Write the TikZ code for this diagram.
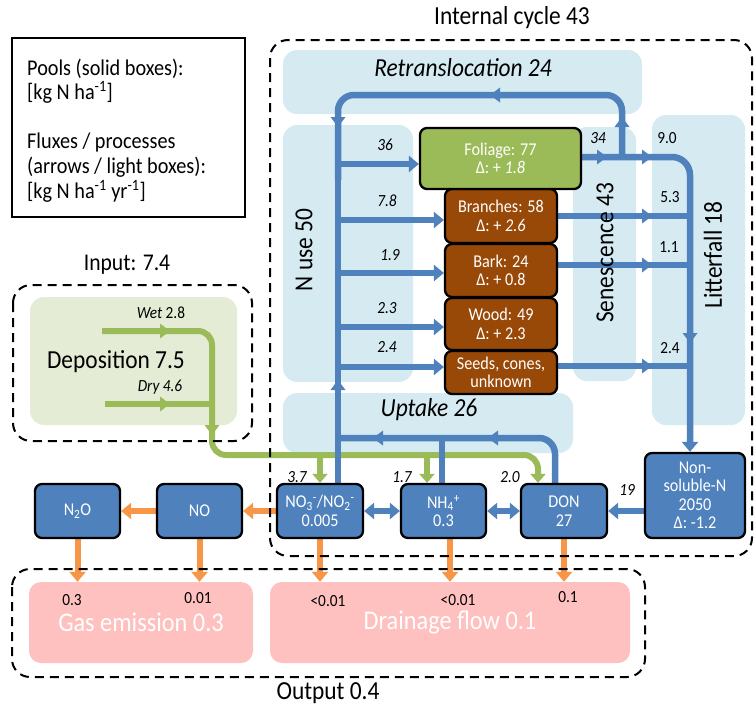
\documentclass[tikz,border=0pt]{standalone}
\usepackage{fontspec}
\setmainfont{Carlito}[FakeStretch=0.9]
\usetikzlibrary{arrows.meta}
\definecolor{bl}{HTML}{4F81BD}
\definecolor{brn}{HTML}{984807}
\definecolor{grn}{HTML}{9BBB59}
\definecolor{lbl}{HTML}{D5EAF1}
\definecolor{lgr}{HTML}{E4ECD5}
\definecolor{pnk}{HTML}{FFC0C0}
\definecolor{org}{HTML}{F79646}
\newcommand\fsz[2]{\fontsize{#1}{#2}\selectfont}
\pgfdeclarelayer{back}
\pgfdeclarelayer{lines}
\pgfsetlayers{back,lines,main}
\tikzset{
 mr/.pic={\fill (5,0) -- (-5,-7.5) -- (-5,7.5) -- cycle;},
 ml/.pic={\fill (-5,0) -- (5,-7.5) -- (5,7.5) -- cycle;},
 mu/.pic={\fill (0,-5) -- (-7.5,5) -- (7.5,5) -- cycle;},
 md/.pic={\fill (0,5) -- (-7.5,-5) -- (7.5,-5) -- cycle;},
}
\begin{document}
\begin{tikzpicture}[x=1pt,y=-1pt,
 pool/.style={draw=black,line width=2.3pt,rounded corners=7pt,text=white,align=center,inner sep=0pt,font=\fsz{18}{18.5}},
 lightbox/.style={fill=lbl,rounded corners=14pt},
 bline/.style={draw=bl,line width=6.5pt},
 gline/.style={draw=grn,line width=6pt},
 oline/.style={draw=org,line width=6pt},
 gtip/.style={-{Triangle[width=15pt,length=9pt]}},
 big/.style={font=\fsz{26}{30}},
 ibig/.style={font=\fsz{26}{30}\itshape},
 leg/.style={font=\fsz{22.5}{25},anchor=base west,inner sep=0pt},
 lab/.style={font=\fsz{17}{19}},
 ilab/.style={font=\fsz{17}{19}\itshape},
 pinkbox/.style={fill=pnk,rounded corners=12pt,minimum height=81pt,text=white,font=\fsz{27}{30}},
 dbox/.style={draw=black,line width=2pt,dash pattern=on 9pt off 6pt,rounded corners=18pt},
 >={Triangle[width=16pt,length=10pt]}]
\useasboundingbox (0,0) rectangle (755,707);

\begin{pgfonlayer}{back}
 \path[lightbox] (283,50) rectangle (642,114);
 \path[lightbox] (283,125) rectangle (413,382);
 \path[lightbox] (573,127) rectangle (636,381);
 \path[lightbox] (652,115) rectangle (745,425);
 \path[lightbox] (283,393) rectangle (573,453);
 \path[fill=lgr,rounded corners=14pt] (30,297) rectangle (237,425);
\end{pgfonlayer}

% pools
\node[pool,fill=brn,minimum width=112pt,minimum height=54pt] (br) at (501,216) {Branches: 58\\Δ: + \textit{2.6}};
\node[pool,fill=brn,minimum width=112pt,minimum height=53pt] (bk) at (501,270.5) {Bark: 24\\Δ: + 0.8};
\node[pool,fill=brn,minimum width=112pt,minimum height=52pt] (wd) at (501,324) {Wood: 49\\Δ: + 2.3};
\node[pool,fill=brn,minimum width=112pt,minimum height=43pt] (sd) at (501,372.5) {Seeds, cones,\\unknown};
\node[pool,fill=grn,minimum width=161pt,minimum height=61pt] (fol) at (500.5,158.5) {Foliage: 77\\Δ: + \textit{1.8}};

\node[pool,fill=bl,minimum width=85pt,minimum height=54pt] (n2o) at (77.5,511) {N\textsubscript{2}O};
\node[pool,fill=bl,minimum width=85pt,minimum height=54pt] (no) at (199.5,511) {NO};
\node[pool,fill=bl,minimum width=86pt,minimum height=54pt] (no3) at (320,511) {NO\textsubscript{3}\textsuperscript{-}/NO\textsubscript{2}\textsuperscript{-}\\0.005};
\node[pool,fill=bl,minimum width=85pt,minimum height=54pt] (nh4) at (443.5,511) {NH\textsubscript{4}\textsuperscript{+}\\0.3};
\node[pool,fill=bl,minimum width=86pt,minimum height=54pt] (don) at (564,511) {DON\\27};
\node[pool,fill=bl,minimum width=100pt,minimum height=85pt] (nons) at (695,495.5) {Non-\\soluble-N\\2050\\Δ: -1.2};

\node[pinkbox,minimum width=224pt] (gas) at (141,622.5) {Gas emission 0.3};
\node[pinkbox,minimum width=360pt] (drn) at (450,622.5) {Drainage flow 0.1};

\begin{pgfonlayer}{lines}
 % green deposition
 \draw[gline,rounded corners=14pt,gtip] (102,331) -- (212,331) -- (212,455) -- (538,455) -- (538,0 |- don.north);
 \draw[gline] (105,404) -- (212,404);
 \draw[gline,gtip] (320,455) -- (320,0 |- no3.north);
 \draw[gline,gtip] (427,455) -- (427,0 |- nh4.north);
 \pic[fill=grn] at (165,331) {mr};
 \pic[fill=grn] at (165,404) {mr};
 \pic[fill=grn] at (212,430) {md};
 % blue
 \draw[bline,rounded corners=16pt] (622,157) -- (622,95) -- (338,95) -- (338,180);
 \draw[bline] (338,0 |- no3.north) -- (338,170);
 \draw[bline,->] (338,164) -- (338,164 -| fol.west);
 \draw[bline,->] (338,220) -- (338,220 -| br.west);
 \draw[bline,->] (338,273) -- (338,273 -| bk.west);
 \draw[bline,->] (338,327) -- (338,327 -| wd.west);
 \draw[bline,->] (338,367) -- (338,367 -| sd.west);
 \draw[bline,rounded corners=18pt,->] (fol.east |- 0,157) -- (690,157) -- (690,0 |- nons.north);
 \draw[bline] (br.east |- 0,216) -- (690,216);
 \draw[bline] (bk.east |- 0,265) -- (690,265);
 \draw[bline] (sd.east |- 0,366) -- (690,366);
 \draw[bline,rounded corners=16pt] (555,0 |- don.north) -- (555,438) -- (338,438);
 \draw[bline] (442,0 |- nh4.north) -- (442,438);
 \draw[bline,<->] (no3.east) -- (nh4.west);
 \draw[bline,<->] (nh4.east) -- (don.west);
 \draw[bline,->] (nons.west |- don.east) -- (don.east);
 \pic[fill=bl] at (495,95) {ml};
 \pic[fill=bl] at (622,122) {mu};
 \pic[fill=bl] at (338,122) {md};
 \pic[fill=bl] at (338,385) {mu};
 \pic[fill=bl] at (378,438) {ml};
 \pic[fill=bl] at (493,438) {ml};
 \pic[fill=bl] at (602,157) {mr};
 \pic[fill=bl] at (647,157) {mr};
 \pic[fill=bl] at (647,216) {mr};
 \pic[fill=bl] at (647,265) {mr};
 \pic[fill=bl] at (647,366) {mr};
 \pic[fill=bl] at (690,338) {md};
 % orange
 \draw[oline,->] (no3.west) -- (no.east);
 \draw[oline,->] (no.west) -- (n2o.east);
 \draw[oline,->] (n2o.south) -- (n2o.south |- gas.north);
 \draw[oline,->] (no.south) -- (no.south |- gas.north);
 \draw[oline,->] (no3.south) -- (no3.south |- drn.north);
 \draw[oline,->] (450,0 |- nh4.south) -- (450,0 |- drn.north);
 \draw[oline,->] (don.south) -- (don.south |- drn.north);
\end{pgfonlayer}

% process labels
\node[ibig] (tret) at (463,68) {Retranslocation 24};
\node[ibig] (tupt) at (429,410) {Uptake 26};
\node[big,rotate=90] (tnuse) at (304,250) {N use 50};
\node[big,rotate=90] (tsen) at (605,253) {Senescence 43};
\node[big,rotate=90] (tlit) at (713,255) {Litterfall 18};
\node[big] (tdep) at (116,362) {Deposition 7.5};
\node[big] (tint) at (512,18) {Internal cycle 43};
\node[font=\fsz{24}{28}] (tin) at (127,265) {Input: 7.4};
\node[big] (tout) at (328,693) {Output 0.4};

% flux labels
\node[lab] (lwet) at (161,313) {\textit{Wet} 2.8};
\node[ilab] (ldry) at (160,387) {Dry 4.6};
\node[ilab] (l36) at (385,145) {36};
\node[ilab] (l78) at (387,201) {7.8};
\node[ilab] (l19a) at (390,255) {1.9};
\node[ilab] (l23) at (387,308) {2.3};
\node[ilab] (l24a) at (387,347) {2.4};
\node[ilab] (l34) at (598,138) {34};
\node[lab] (l90) at (667,138) {9.0};
\node[lab] (l53) at (670,197) {5.3};
\node[lab] (l11) at (669,247) {1.1};
\node[lab] (l24b) at (670,348) {2.4};
\node[ilab] (l37) at (297,477) {3.7};
\node[ilab] (l17) at (402,477) {1.7};
\node[ilab] (l20) at (510,477) {2.0};
\node[ilab] (l19) at (627,490) {19};
\node[lab] (o1) at (72,600) {0.3};
\node[lab] (o2) at (198,598) {0.01};
\node[lab] (o3) at (328,601) {<0.01};
\node[lab] (o4) at (458,600) {<0.01};
\node[lab] (o5) at (568,597) {0.1};

% legend
\draw[line width=1.3pt] (12,38) rectangle (245,217);
\node[leg] (g1) at (27,75) {Pools (solid boxes):};
\node[leg] (g2) at (27,99) {[kg N ha\textsuperscript{-1}]};
\node[leg] (g3) at (27,148) {Fluxes / processes};
\node[leg] (g4) at (27,173) {(arrows / light boxes):};
\node[leg] (g5) at (27,198) {[kg N ha\textsuperscript{-1} yr\textsuperscript{-1}]};

% dashed groups
\draw[dbox] (270,40) rectangle (752,556);
\draw[dbox] (13,285) rectangle (252,441);
\draw[dbox] (12,569) rectangle (645,677);
\end{tikzpicture}
\end{document}
